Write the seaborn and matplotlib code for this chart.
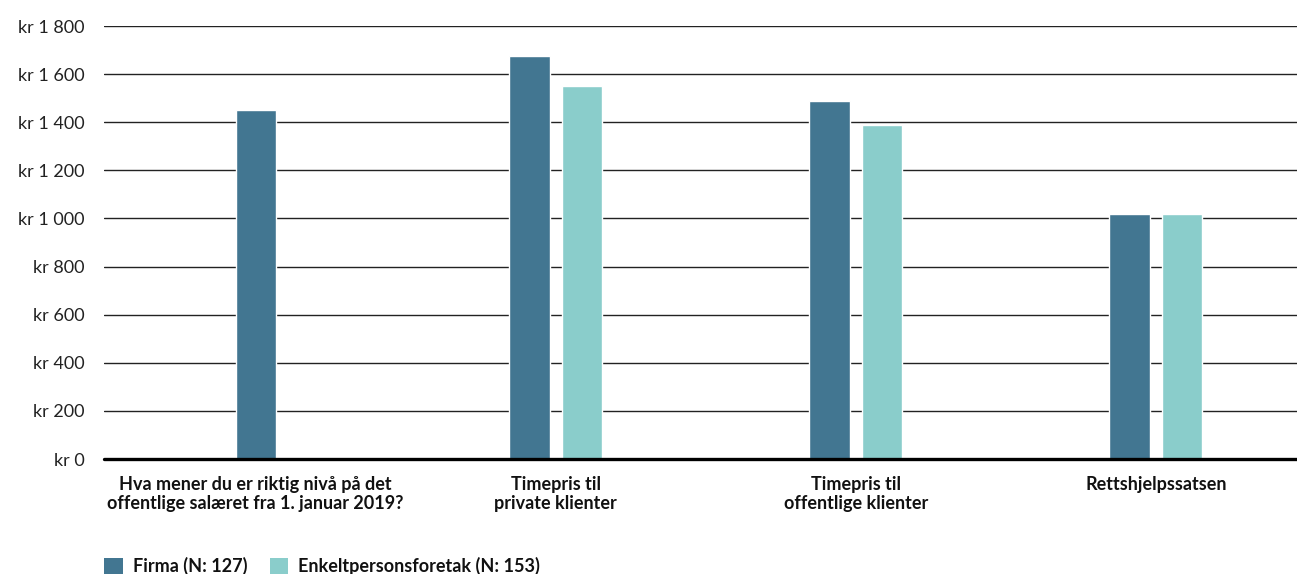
import matplotlib
matplotlib.use("Agg")
import matplotlib.pyplot as plt
import matplotlib.ticker as mticker
from matplotlib.patches import Patch
import pandas as pd
import seaborn as sns

# data
categories = [
    "Hva mener du er riktig nivå på det\noffentlige salæret fra 1. januar 2019?",
    "Timepris til\nprivate klienter",
    "Timepris til\noffentlige klienter",
    "Rettshjelpssatsen",
]
series = ["Firma (N: 127)", "Enkeltpersonsforetak (N: 153)"]
firma = [1450, 1675, 1490, 1020]
enkelt = [None, 1550, 1390, 1020]
colors = ["#427691", "#8ACDCB"]
yticks = [0, 200, 400, 600, 800, 1000, 1200, 1400, 1600, 1800]

sns.set_theme(style="white")
plt.rcParams["font.family"] = ["Lato", "DejaVu Sans"]

rows = []
for cat, f, e in zip(categories, firma, enkelt):
    rows.append({"kategori": cat, "serie": series[0], "verdi": f})
    if e is not None:
        rows.append({"kategori": cat, "serie": series[1], "verdi": e})
df = pd.DataFrame(rows)

# categories where both series exist are dodged, single ones centred
counts = df.groupby("kategori")["serie"].transform("count")
paired = df[counts == 2]
single = df[counts == 1]

fig = plt.figure(figsize=(12.97, 5.74), dpi=100)
ax = fig.add_axes([0.0802, 0.2003, 0.9198, 0.7544])

sns.barplot(data=paired, x="kategori", y="verdi", hue="serie", order=categories,
            hue_order=series, palette=colors, width=0.35, gap=0.23,
            saturation=1, legend=False, ax=ax, zorder=3)
sns.barplot(data=single, x="kategori", y="verdi", order=categories,
            color=colors[0], width=0.133, saturation=1, ax=ax, zorder=3)

ax.set_xlim(-0.505, 3.47)
ax.set_ylim(0, 1800)
ax.set_yticks(yticks)
ax.yaxis.set_major_formatter(
    mticker.FuncFormatter(lambda v, p: "kr " + f"{int(v):,}".replace(",", " ")))
ax.grid(axis="y", color="#222222", linewidth=1.0, zorder=0)
ax.axhline(0, color="black", linewidth=2.4, zorder=4, clip_on=False)
for s in ax.spines.values():
    s.set_visible(False)
ax.set_xlabel("")
ax.set_ylabel("")
ax.tick_params(axis="y", length=0, pad=14, labelsize=13, labelcolor="#222222")
ax.tick_params(axis="x", length=0, pad=12)
for lab in ax.get_xticklabels():
    lab.set_fontweight("bold")
    lab.set_fontsize(13)
    lab.set_color("#111111")

handles = [Patch(facecolor=c, edgecolor="none") for c in colors]
leg = fig.legend(handles, series, loc="lower left", bbox_to_anchor=(0.068, -0.03),
                 ncol=2, frameon=False, handlelength=1.0, handleheight=1.0,
                 handletextpad=0.6, columnspacing=1.2, fontsize=13)
for t in leg.get_texts():
    t.set_fontweight("bold")
    t.set_color("#111111")

fig.savefig("out.png", dpi=100)
